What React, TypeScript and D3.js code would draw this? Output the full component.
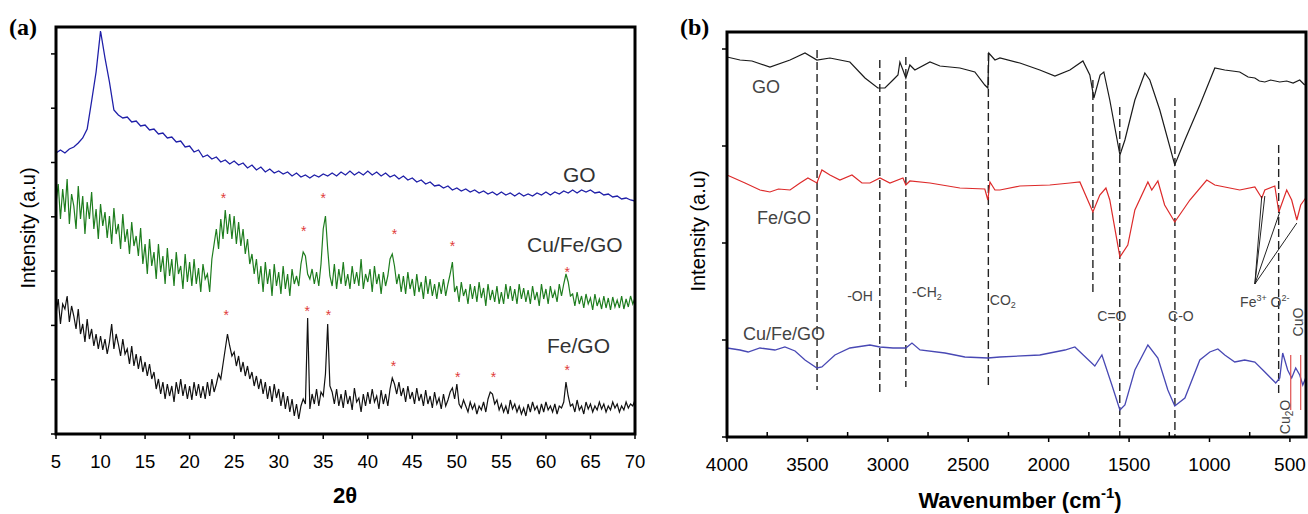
import React from "react";
import * as d3 from "d3";

// ---------- Panel (a): XRD ----------
const xrdTicks = [5, 10, 15, 20, 25, 30, 35, 40, 45, 50, 55, 60, 65, 70];
const xrdStart = 5;
const xrdEnd = 70;
// GO, 0.5° steps (arbitrary intensity units)
const goXrd = [
  281, 284, 281, 285, 287, 291, 296, 305, 333, 362,
  403, 376, 352, 324, 319, 316, 317, 312, 313, 308,
  309, 304, 305, 300, 301, 296, 297, 292, 293, 287,
  288, 282, 284, 277, 279, 275, 277, 272, 274, 270,
  273, 269, 271, 266, 269, 264, 267, 262, 265, 261,
  263, 260, 262, 258, 261, 257, 259, 256, 259, 257,
  260, 258, 261, 258, 262, 259, 263, 259, 262, 259,
  263, 259, 262, 258, 261, 257, 259, 255, 258, 254,
  256, 252, 254, 250, 252, 248, 249, 246, 248, 244,
  246, 243, 245, 242, 244, 241, 243, 240, 242, 239,
  242, 239, 241, 238, 241, 238, 240, 238, 241, 239,
  242, 239, 242, 240, 243, 241, 244, 241, 244, 242,
  244, 241, 242, 239, 240, 237, 238, 235, 236, 234,
  233,
];
// Cu/Fe/GO, 0.25° steps
const cuFeGoXrd = [
  230, 250, 215, 245, 222, 255, 210, 240, 228, 205, 248, 215, 238, 200, 232, 215,
  242, 205, 225, 195, 230, 208, 222, 196, 218, 190, 226, 200, 210, 185, 220, 192,
  205, 180, 212, 188, 198, 178, 206, 170, 190, 160, 195, 168, 182, 155, 190, 162,
  178, 150, 186, 158, 175, 148, 182, 160, 168, 145, 180, 152, 172, 148, 175, 150,
  166, 142, 170, 155, 160, 142, 175, 190, 205, 185, 215, 195, 224, 200, 220, 195,
  218, 190, 212, 188, 205, 180, 195, 170, 180, 160, 175, 150, 168, 142, 172, 150,
  165, 138, 170, 148, 162, 140, 168, 145, 160, 138, 165, 150, 158, 148, 170, 182,
  178, 160, 155, 165, 150, 162, 148, 170, 205, 218, 185, 158, 148, 170, 145, 165,
  150, 172, 148, 160, 145, 168, 150, 162, 148, 175, 145, 160, 152, 165, 142, 168,
  150, 160, 140, 162, 148, 158, 175, 180, 168, 150, 160, 142, 158, 140, 162, 145,
  155, 138, 160, 142, 152, 135, 158, 140, 155, 138, 150, 135, 152, 140, 155, 138,
  150, 160, 172, 142, 148, 132, 152, 138, 145, 130, 150, 135, 148, 132, 152, 136,
  146, 128, 150, 134, 144, 132, 148, 130, 142, 130, 150, 135, 148, 133, 145, 130,
  150, 135, 146, 132, 144, 130, 148, 134, 142, 128, 150, 135, 145, 130, 148, 136,
  143, 132, 150, 138, 150, 160, 152, 138, 140, 128, 142, 130, 138, 126, 140, 130,
  136, 124, 140, 128, 135, 125, 138, 126, 136, 124, 137, 127, 134, 126, 138, 125,
  135, 127, 138, 130, 136,
];
// Fe/GO, 0.25° steps
const feGoXrd = [
  120, 135, 110, 130, 125, 138, 112, 128, 118, 105, 125, 100, 110, 92, 115, 95,
  105, 88, 100, 85, 98, 84, 95, 80, 92, 110, 85, 100, 90, 78, 95, 80,
  85, 70, 88, 68, 80, 65, 78, 62, 72, 58, 70, 55, 62, 45, 55, 40,
  52, 35, 50, 38, 48, 32, 52, 40, 55, 38, 50, 35, 48, 34, 52, 38,
  50, 36, 48, 35, 52, 38, 55, 42, 50, 60, 55, 70, 85, 100, 88, 78,
  82, 68, 78, 62, 72, 58, 68, 55, 62, 48, 58, 45, 55, 40, 52, 35,
  48, 32, 50, 36, 45, 28, 42, 25, 38, 22, 35, 18, 30, 15, 28, 35,
  30, 116, 25, 40, 30, 45, 28, 42, 38, 60, 110, 48, 42, 30, 45, 28,
  40, 26, 44, 30, 38, 24, 46, 32, 36, 22, 40, 28, 42, 30, 45, 32,
  38, 25, 44, 30, 40, 28, 45, 56, 50, 40, 52, 38, 46, 32, 48, 35,
  42, 30, 46, 33, 40, 28, 44, 30, 38, 26, 42, 30, 36, 25, 40, 28,
  34, 42, 46, 35, 50, 30, 26, 34, 28, 22, 32, 25, 30, 20, 28, 24,
  32, 22, 35, 42, 40, 30, 34, 24, 30, 22, 28, 20, 34, 25, 30, 22,
  28, 20, 26, 18, 30, 22, 32, 24, 28, 20, 30, 22, 32, 24, 28, 22,
  30, 20, 28, 26, 32, 52, 38, 28, 30, 22, 34, 24, 28, 20, 32, 25,
  30, 22, 28, 24, 32, 25, 30, 22, 28, 24, 32, 26, 30, 22, 28, 24,
  32, 26, 30, 28, 34,
];
const cuFeGoStars: [number, number][] = [
  [23.8, 238], [32.8, 205], [35.0, 238], [43.0, 202], [49.5, 190], [62.4, 164],
];
const feGoStars: [number, number][] = [
  [24.1, 121], [33.2, 125], [35.6, 121], [42.9, 70], [50.1, 59], [54.1, 59], [62.4, 66],
];

// ---------- Panel (b): FTIR ----------
const wnTicks = [4000, 3500, 3000, 2500, 2000, 1500, 1000, 500];
const wnMinorTicks = [3750, 3250, 2750, 2250, 1750, 1250, 750];
const ftirGo: [number, number][] = [
  [4000, 380], [3919, 377], [3845, 376], [3733, 370], [3608, 377], [3515, 384],
  [3441, 377], [3360, 379], [3236, 375], [3142, 359], [3062, 349], [3018, 349],
  [2968, 357], [2937, 362], [2925, 375], [2906, 367], [2888, 359], [2863, 372],
  [2832, 367], [2738, 375], [2676, 371], [2552, 369], [2459, 365], [2397, 352],
  [2378, 349], [2372, 384], [2334, 377], [2303, 379], [2179, 374], [2055, 367],
  [1961, 361], [1868, 367], [1787, 376], [1744, 362], [1719, 339], [1680, 362],
  [1657, 365], [1620, 337], [1557, 282], [1526, 297], [1464, 337], [1402, 364],
  [1371, 357], [1309, 327], [1216, 272], [1153, 297], [1060, 332], [967, 369],
  [905, 367], [812, 365], [760, 360], [718, 359], [690, 356], [656, 355],
  [620, 357], [563, 355], [520, 356], [480, 354], [439, 357], [408, 352],
];
const ftirFeGo: [number, number][] = [
  [4000, 262], [3888, 254], [3795, 247], [3733, 245], [3680, 248], [3608, 247],
  [3546, 254], [3497, 259], [3441, 254], [3410, 267], [3360, 262], [3298, 257],
  [3223, 262], [3161, 254], [3111, 254], [3049, 259], [2987, 254], [2906, 259],
  [2888, 252], [2863, 256], [2738, 254], [2552, 249], [2397, 248], [2378, 237],
  [2365, 255], [2334, 247], [2303, 247], [2179, 251], [1993, 252], [1868, 254],
  [1806, 255], [1725, 225], [1682, 242], [1644, 249], [1620, 237], [1557, 180],
  [1508, 192], [1464, 227], [1383, 255], [1359, 247], [1321, 256], [1279, 232],
  [1216, 215], [1122, 237], [1017, 257], [967, 252], [812, 247], [718, 250],
  [675, 239], [656, 247], [594, 251], [569, 225], [520, 247], [489, 237],
  [457, 217], [433, 232], [402, 239],
];
const ftirCuFeGo: [number, number][] = [
  [4000, 89], [3919, 87], [3869, 85], [3795, 89], [3702, 87], [3640, 90],
  [3577, 86], [3515, 77], [3441, 69], [3410, 70], [3329, 82], [3236, 89],
  [3111, 92], [3049, 90], [2968, 89], [2888, 89], [2850, 94], [2800, 87],
  [2645, 84], [2521, 80], [2378, 79], [2303, 80], [2055, 82], [1899, 87],
  [1837, 90], [1713, 71], [1669, 82], [1607, 52], [1557, 27], [1526, 32],
  [1464, 67], [1383, 92], [1321, 79], [1259, 47], [1216, 31], [1153, 39],
  [1060, 77], [998, 85], [948, 88], [905, 82], [843, 75], [781, 77],
  [718, 75], [656, 65], [588, 54], [563, 59], [545, 84], [514, 67],
  [489, 59], [464, 69], [439, 62], [420, 52], [402, 59],
];
// dashed band markers: wavenumber, top and bottom (intensity units)
const bandWn = [3440, 3050, 2888, 2375, 1725, 1558, 1215, 570];
const bandTop = [387, 377, 380, 384, 357, 330, 339, 292];
const bandBottom = [47, 45, 50, 52, 145, 1, 1, 42];

const W = 1308;
const H = 514;

export default function App() {
  // panel a scales
  const xa = d3.scaleLinear().domain([5, 70]).range([56, 635]);
  const ya = d3.scaleLinear().domain([0, 407]).range([434, 27]);
  const yaTicks = d3.range(0, 8).map((i) => i * 54.3);
  const lineA = (vals: number[]) => {
    const n = vals.length;
    const step = (xrdEnd - xrdStart) / (n - 1);
    return d3
      .line<number>()
      .x((_, i) => xa(xrdStart + i * step))
      .y((v) => ya(v))(vals) as string;
  };

  // panel b scales
  const xb = d3.scaleLinear().domain([4000, 400]).range([727, 1306]);
  const yb = d3.scaleLinear().domain([0, 405]).range([437, 32]);
  const ybTicks = d3.range(0, 5).map((i) => i * 97);
  const lineB = d3
    .line<[number, number]>()
    .x((d) => xb(d[0]))
    .y((d) => yb(d[1]));

  const sans = "'Liberation Sans', Arial, sans-serif";
  const serif = "'Liberation Serif', 'Times New Roman', serif";

  return (
    <svg
      width={W}
      height={H}
      style={{ position: "absolute", left: 0, top: 0, background: "#fff" }}
      fontFamily={sans}
    >
      <rect width={W} height={H} fill="#fff" />
      {/* ================= Panel (a) ================= */}
      <text x={9} y={35} fontFamily={serif} fontWeight="bold" fontSize={24}>
        (a)
      </text>
      <path d={lineA(goXrd)} fill="none" stroke="#1f1fa8" strokeWidth={1.3} />
      <path d={lineA(cuFeGoXrd)} fill="none" stroke="#1e7d1e" strokeWidth={1.2} />
      <path d={lineA(feGoXrd)} fill="none" stroke="#111" strokeWidth={1.2} />
      {cuFeGoStars.concat(feGoStars).map(([t, v], i) => (
        <text
          key={"s" + i}
          x={xa(t)}
          y={ya(v) + 7}
          textAnchor="middle"
          fontSize={14}
          fill="#e03a3a"
        >
          *
        </text>
      ))}
      <text x={563} y={182} fontSize={21} fill="#333">GO</text>
      <text x={527} y={252} fontSize={21} fill="#333">Cu/Fe/GO</text>
      <text x={547} y={353} fontSize={21} fill="#333">Fe/GO</text>
      {/* frame */}
      <rect
        x={xa(5)}
        y={ya(407)}
        width={xa(70) - xa(5)}
        height={ya(0) - ya(407)}
        fill="none"
        stroke="#000"
        strokeWidth={3}
      />
      {yaTicks.map((t, i) => (
        <line key={"ya" + i} x1={xa(5) - 5} x2={xa(5)} y1={ya(t)} y2={ya(t)} stroke="#000" strokeWidth={1.5} />
      ))}
      {xrdTicks.map((t) => (
        <g key={"xa" + t}>
          <line x1={xa(t)} x2={xa(t)} y1={ya(0)} y2={ya(0) + 5} stroke="#000" strokeWidth={1.5} />
          <text x={xa(t)} y={468} textAnchor="middle" fontSize={18.5}>
            {t}
          </text>
        </g>
      ))}
      <text x={345} y={503} textAnchor="middle" fontSize={22} fontWeight="bold">
        2θ
      </text>
      <text
        transform={`translate(35, 228) rotate(-90)`}
        textAnchor="middle"
        fontSize={20}
      >
        Intensity (a.u)
      </text>

      {/* ================= Panel (b) ================= */}
      <text x={680} y={35} fontFamily={serif} fontWeight="bold" fontSize={24}>
        (b)
      </text>
      {bandWn.map((w, i) => (
        <line
          key={"band" + i}
          x1={xb(w)}
          x2={xb(w)}
          y1={yb(bandTop[i])}
          y2={yb(bandBottom[i])}
          stroke="#222"
          strokeWidth={1.4}
          strokeDasharray="8,4"
        />
      ))}
      <path d={lineB(ftirGo) as string} fill="none" stroke="#1a1a1a" strokeWidth={1.2} />
      <path d={lineB(ftirFeGo) as string} fill="none" stroke="#dd2a2a" strokeWidth={1.2} />
      <path d={lineB(ftirCuFeGo) as string} fill="none" stroke="#4848b4" strokeWidth={1.3} />
      {/* red marker lines */}
      {[495, 433].map((w) => (
        <line key={"r" + w} x1={xb(w)} x2={xb(w)} y1={yb(82)} y2={yb(27)} stroke="#e05050" strokeWidth={1.2} />
      ))}
      {/* pointer lines */}
      {[
        [675, 241],
        [656, 241],
        [563, 225],
        [457, 214],
      ].map(([w, v], i) => (
        <line key={"p" + i} x1={xb(718)} y1={yb(153)} x2={xb(w)} y2={yb(v)} stroke="#222" strokeWidth={1} />
      ))}
      <g fontSize={18} fill="#444">
        <text x={752} y={93}>GO</text>
        <text x={757} y={224}>Fe/GO</text>
        <text x={743} y={340}>Cu/Fe/GO</text>
      </g>
      <g fontSize={14} fill="#444" textAnchor="middle">
        <text x={xb(3173)} y={yb(136)}>-OH</text>
        <text x={xb(2757)} y={yb(140)}>
          -CH<tspan fontSize={9} dy={3}>2</tspan>
        </text>
        <text x={xb(2285)} y={yb(132)}>
          CO<tspan fontSize={9} dy={3}>2</tspan>
        </text>
        <text x={xb(1607)} y={yb(116)}>C=O</text>
        <text x={xb(1178)} y={yb(116)}>C-O</text>
        <text x={xb(656)} y={yb(130)}>
          Fe<tspan fontSize={9} dy={-6}>3+</tspan>
          <tspan dy={6}> O</tspan>
          <tspan fontSize={9} dy={-6}>2-</tspan>
        </text>
        <text transform={`translate(${xb(452) + 5}, ${yb(115)}) rotate(-90)`}>CuO</text>
        <text transform={`translate(${xb(533) + 5}, ${yb(20)}) rotate(-90)`}>
          Cu<tspan fontSize={10} dy={3}>2</tspan>
          <tspan dy={-3}>O</tspan>
        </text>
      </g>
      {/* frame */}
      <rect
        x={xb(4000)}
        y={yb(405)}
        width={xb(400) - xb(4000)}
        height={yb(0) - yb(405)}
        fill="none"
        stroke="#000"
        strokeWidth={3}
      />
      {ybTicks.map((t, i) => (
        <line key={"yb" + i} x1={xb(4000) - 5} x2={xb(4000)} y1={yb(t)} y2={yb(t)} stroke="#000" strokeWidth={1.5} />
      ))}
      {wnMinorTicks.map((t) => (
        <line key={"mb" + t} x1={xb(t)} x2={xb(t)} y1={yb(0)} y2={yb(0) - 5} stroke="#000" strokeWidth={1.5} />
      ))}
      {wnTicks.map((t) => (
        <g key={"xb" + t}>
          <line x1={xb(t)} x2={xb(t)} y1={yb(0)} y2={yb(0) + 5} stroke="#000" strokeWidth={1.5} />
          <text x={xb(t)} y={471} textAnchor="middle" fontSize={19}>
            {t}
          </text>
        </g>
      ))}
      <text x={1020} y={508} textAnchor="middle" fontSize={22} fontWeight="bold">
        Wavenumber (cm<tspan fontSize={15} dy={-10}>-1</tspan>
        <tspan dy={10}>)</tspan>
      </text>
      <text
        transform={`translate(705, 231) rotate(-90)`}
        textAnchor="middle"
        fontSize={20}
      >
        Intensity (a.u)
      </text>
    </svg>
  );
}
